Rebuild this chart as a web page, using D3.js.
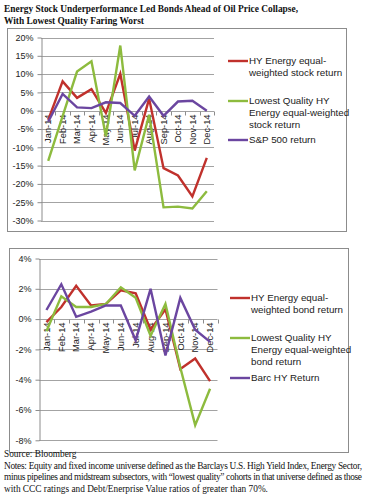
<!DOCTYPE html>
<html><head><meta charset="utf-8">
<script src="https://cdn.jsdelivr.net/npm/d3@7"></script>
<style>
html,body{margin:0;padding:0;background:#fff;}
svg{display:block;}
</style></head>
<body>
<svg id="c" width="365" height="499"></svg>
<script>
const months = ["Jan-14","Feb-14","Mar-14","Apr-14","May-14","Jun-14","Jul-14","Aug-14","Sep-14","Oct-14","Nov-14","Dec-14"];

// Top chart: stock returns (%)
const hyEnergyStock = [-2.5, 8.0, 3.5, 5.9, -0.6, 10.1, -10.9, 3.3, -15.7, -17.7, -23.4, -12.9];
const lowQualStock  = [-13.7, -1.5, 10.7, 13.5, -7.0, 17.8, -16.3, -1.1, -26.4, -26.2, -26.7, -22.0];
const sp500         = [-3.0, 4.6, 0.9, 0.7, 2.3, 2.1, -1.4, 3.9, -1.4, 2.5, 2.7, 0.0];
const topTicks = [20, 15, 10, 5, 0, -5, -10, -15, -20, -25, -30];

// Bottom chart: bond returns (%)
const hyEnergyBond = [-0.2, 0.8, 2.2, 0.9, 1.0, 1.9, 1.7, -0.7, 0.65, -3.3, -2.6, -4.1];
const lowQualBond  = [-0.8, 1.5, 0.8, 0.8, 1.0, 2.1, 1.4, -1.1, 1.0, -3.2, -7.0, -4.6];
const barcHY       = [0.6, 2.3, 0.15, 0.5, 0.9, 0.9, -1.4, 2.0, -2.4, 1.4, -0.7, -1.5];
const bottomTicks = [4, 2, 0, -2, -4, -6, -8];

const colors = {red:"#c0312c", green:"#8dbb3e", purple:"#6b46a0"};

const titleLines = ["Energy Stock Underperformance Led Bonds Ahead of Oil Price Collapse,",
                    "With Lowest Quality Faring Worst"];
const topLegend = [
  {lines:["HY Energy equal-","weighted stock return"], color:colors.red},
  {lines:["Lowest Quality HY","Energy equal-weighted","stock return"], color:colors.green},
  {lines:["S&P 500 return"], color:colors.purple}
];
const bottomLegend = [
  {lines:["HY Energy equal-","weighted bond return"], color:colors.red},
  {lines:["Lowest Quality HY","Energy equal-weighted","bond return"], color:colors.green},
  {lines:["Barc HY Return"], color:colors.purple}
];
const sourceText = "Source: Bloomberg";
const notesLines = [
  "Notes: Equity and fixed income universe defined as the Barclays U.S. High Yield Index, Energy Sector,",
  "minus pipelines and midstream subsectors, with \u201clowest quality\u201d cohorts in that universe defined as those",
  "with CCC ratings and Debt/Enerprise Value ratios of greater than 70%."
];

const svg = d3.select("#c");
const sans = "'Liberation Sans', Arial, sans-serif";
const serif = "'Liberation Serif', 'Times New Roman', serif";

// Title
const titleWidths = [294, 140];
svg.append("g").selectAll("text").data(titleLines).join("text")
  .attr("x", 4).attr("y", (d,i)=>12 + i*12)
  .attr("font-family", serif).attr("font-weight","bold").attr("font-size", 10.2)
  .attr("textLength", (d,i)=>titleWidths[i]).attr("lengthAdjust","spacingAndGlyphs")
  .attr("fill","#111").text(d=>d);

function drawChart(cfg) {
  const g = svg.append("g");
  // frame
  g.append("rect").attr("x", cfg.box[0]+0.5).attr("y", cfg.box[1]+0.5)
    .attr("width", cfg.box[2]-cfg.box[0]).attr("height", cfg.box[3]-cfg.box[1])
    .attr("fill","none").attr("stroke","#8c8c8c").attr("stroke-width",1);

  const x = d3.scaleBand().domain(months).range([cfg.x0, cfg.x1]);
  const y = d3.scaleLinear().domain(cfg.domain).range([cfg.yBottom, cfg.yTop]);

  // gridlines
  g.append("g").selectAll("line").data(cfg.ticks).join("line")
    .attr("x1", cfg.x0).attr("x2", cfg.x1)
    .attr("y1", d=>Math.round(y(d))+0.5).attr("y2", d=>Math.round(y(d))+0.5)
    .attr("stroke","#a3a3a3").attr("stroke-width",1);

  // y axis
  const yAxis = d3.axisLeft(y).tickValues(cfg.ticks).tickSize(4).tickSizeOuter(0)
    .tickFormat(d=>d+"%");
  const ya = g.append("g").attr("transform", `translate(${Math.round(cfg.x0)+0.5},0)`).call(yAxis);
  ya.select(".domain").attr("stroke","#8c8c8c");
  ya.selectAll(".tick line").attr("stroke","#8c8c8c");
  ya.selectAll(".tick text").attr("font-family", sans).attr("font-size", 9).attr("fill","#222").attr("x",-8);

  // x axis at zero
  const y0 = Math.round(y(0))+0.5;
  const bounds = months.map(m=>x(m)).concat([cfg.x1]).slice(1);
  g.append("g").selectAll("line").data(bounds).join("line")
    .attr("x1", d=>Math.round(d)+0.5).attr("x2", d=>Math.round(d)+0.5)
    .attr("y1", y0).attr("y2", y0+4).attr("stroke","#8c8c8c");
  g.append("g").selectAll("text").data(months).join("text")
    .attr("transform", d=>`translate(${x(d)+x.bandwidth()/2+3.2},${y0+3})`+" rotate(-90)")
    .attr("text-anchor","end")
    .attr("font-family", sans).attr("font-size", 9.3).attr("fill","#222")
    .text(d=>d);

  // lines
  const line = d3.line().x((d,i)=>x(months[i])+x.bandwidth()/2).y(d=>y(d));
  cfg.series.forEach(s=>{
    g.append("path").datum(s.values).attr("d", line)
      .attr("fill","none").attr("stroke", s.color).attr("stroke-width", 2.4)
      .attr("stroke-linejoin","miter");
  });

  // legend
  const lg = g.append("g");
  cfg.legend.forEach((item, i)=>{
    const ly = cfg.legendY[i];
    lg.append("line").attr("x1", cfg.legendX).attr("x2", cfg.legendX+20)
      .attr("y1", ly).attr("y2", ly).attr("stroke", item.color).attr("stroke-width", 2.4);
    lg.append("g").selectAll("text").data(item.lines).join("text")
      .attr("x", cfg.legendX+21).attr("y", (d,j)=>ly + 3.4 + j*11.7)
      .attr("font-family", sans).attr("font-size", 9.8).attr("fill","#222").text(d=>d);
  });
}

drawChart({
  box:[7,28,346,231], x0:41, x1:214, domain:[-30,20], yBottom:220.5, yTop:37.5,
  ticks: topTicks,
  series:[{values:hyEnergyStock,color:colors.red},{values:lowQualStock,color:colors.green},{values:sp500,color:colors.purple}],
  legend: topLegend, legendX:228, legendY:[61,101,140]
});

drawChart({
  box:[9,248,348,452], x0:39, x1:217.5, domain:[-8,4], yBottom:440.3, yTop:258.5,
  ticks: bottomTicks,
  series:[{values:hyEnergyBond,color:colors.red},{values:lowQualBond,color:colors.green},{values:barcHY,color:colors.purple}],
  legend: bottomLegend, legendX:230, legendY:[298,338,378]
});

// Source and notes
svg.append("text").attr("x",4).attr("y",457).attr("font-family", serif).attr("font-size", 9.3)
  .attr("fill","#111").text(sourceText);
svg.append("g").selectAll("text").data(notesLines).join("text")
  .attr("x",4).attr("y",(d,i)=>468.5 + i*11.7)
  .attr("font-family", serif).attr("font-size", 9.3).attr("fill","#111")
  .each(function(d,i){ if(i<2){ d3.select(this).attr("textLength", 358).attr("lengthAdjust","spacing"); } })
  .text(d=>d);
</script>
</body></html>
